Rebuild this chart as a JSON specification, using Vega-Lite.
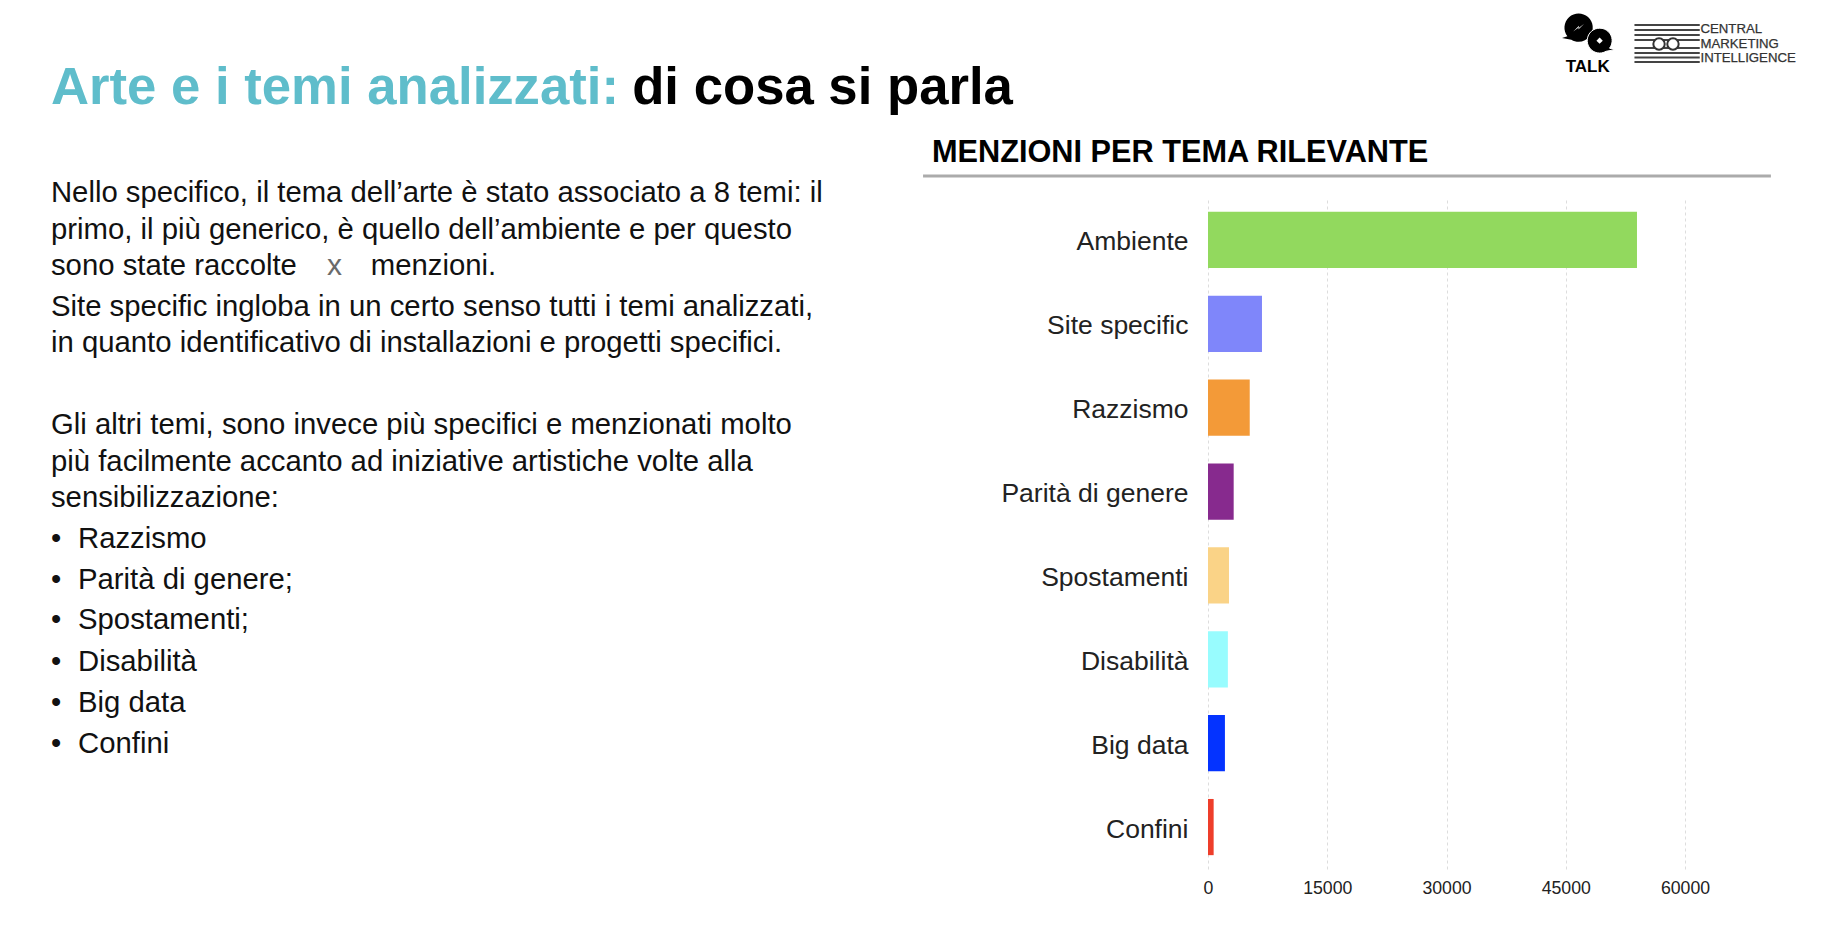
{
"$schema":"https://vega.github.io/schema/vega-lite/v6.json",
"padding":0,
"background":"white",
"config":{"view":{"stroke":null},"font":"Liberation Sans"},
"bounds":"flush",
"spacing":0,
"vconcat":[
{
"width":1834,"height":198,
"encoding":{
"x":{"field":"x","type":"quantitative","axis":null,"scale":{"domain":[0,100]}},
"y":{"field":"y","type":"quantitative","axis":null,"scale":{"domain":[100,0]}}
},
"layer":[
{"data":{"values":[{"testo":"Arte e i temi analizzati:","x":2.78,"y":52.5}]},
 "mark":{"type":"text","align":"left","baseline":"alphabetic","fontSize":52.7,"fontWeight":"bold","color":"#5FBDCB"},
 "encoding":{"text":{"field":"testo"}}},
{"data":{"values":[{"testo":"di cosa si parla","x":34.47,"y":52.5}]},
 "mark":{"type":"text","align":"left","baseline":"alphabetic","fontSize":52.7,"fontWeight":"bold","color":"#000000"},
 "encoding":{"text":{"field":"testo"}}},
{"data":{"values":[{"testo":"MENZIONI PER TEMA RILEVANTE","x":50.82,"y":81.6}]},
 "mark":{"type":"text","align":"left","baseline":"alphabetic","fontSize":30.7,"fontWeight":"bold","color":"#000000"},
 "encoding":{"text":{"field":"testo"}}},
{"data":{"values":[{"x":50.33,"x2":96.56,"y":88.9}]},
 "mark":{"type":"rule","color":"#ABABAB","strokeWidth":3},
 "encoding":{"x2":{"field":"x2"}}},
{"data":{"values":[{"x":89.12,"x2":92.68,"y":12.63},{"x":89.12,"x2":92.68,"y":15.15},{"x":89.12,"x2":92.68,"y":17.68},{"x":89.12,"x2":92.68,"y":20.2},{"x":89.12,"x2":92.68,"y":24.24},{"x":89.12,"x2":92.68,"y":26.77},{"x":89.12,"x2":92.68,"y":29.04},{"x":89.12,"x2":92.68,"y":31.31}]},
 "mark":{"type":"rule","color":"#444444","strokeWidth":2.2},
 "encoding":{"x2":{"field":"x2"}}},
{"data":{"values":[{"x":90.46,"y":22.22},{"x":91.22,"y":22.22}]},
 "mark":{"type":"point","shape":"circle","filled":true,"fill":"white","stroke":"#333333","strokeWidth":2,"size":130,"opacity":1}},
{"data":{"values":[{"x":86.08,"y":13.99}]},
 "mark":{"type":"point","filled":true,"color":"#000000","opacity":1,"size":800,"shape":"M-0.8,0.6 L-1.18,0.72 L-0.52,0.85 A1,1 0 1 0 -0.8,0.6 Z"}},
{"data":{"values":[{"x":87.22,"y":20.56}]},
 "mark":{"type":"point","filled":true,"color":"#000000","opacity":1,"stroke":"white","strokeWidth":1,"size":620,"shape":"M0.8,0.6 L1.22,0.72 L0.52,0.85 A1,1 0 1 1 0.8,0.6 Z"}},
{"data":{"values":[{"x":86.08,"y":13.99}]},
 "mark":{"type":"point","filled":true,"color":"white","opacity":1,"size":120,"shape":"M-1,0.7 L0.05,-0.35 L0,0.05 L1,-0.7 L-0.05,0.35 L0,-0.05 Z"}},
{"data":{"values":[{"x":87.22,"y":20.56}]},
 "mark":{"type":"point","shape":"diamond","filled":true,"color":"white","opacity":1,"size":40}},
{"data":{"values":[{"testo":"TALK","x":86.57,"y":36.36}]},
 "mark":{"type":"text","align":"center","baseline":"alphabetic","fontSize":17,"fontWeight":"bold","color":"#000000"},
 "encoding":{"text":{"field":"testo"}}},
{"data":{"values":[{"testo":"CENTRAL","x":92.72,"y":16.67},{"testo":"MARKETING","x":92.72,"y":24.24},{"testo":"INTELLIGENCE","x":92.72,"y":31.31}]},
 "mark":{"type":"text","align":"left","baseline":"alphabetic","fontSize":13.2,"color":"#333333","stroke":"#333333","strokeWidth":0.25},
 "encoding":{"text":{"field":"testo"}}}
]
},
{
"bounds":"flush",
"spacing":0,
"hconcat":[
{
"width":1208,"height":671,
"encoding":{
"x":{"field":"colonna","type":"quantitative","axis":null,"scale":{"domain":[0,23.23]}},
"y":{"field":"riga","type":"quantitative","axis":null,"scale":{"domain":[19.521,1.137]}}
},
"layer":[
{"data":{"values":[
{"testo":"Nello specifico, il tema dell’arte è stato associato a 8 temi: il","colonna":0.98,"riga":1},
{"testo":"primo, il più generico, è quello dell’ambiente e per questo","colonna":0.98,"riga":2.01},
{"testo":"sono state raccolte","colonna":0.98,"riga":3},
{"testo":"menzioni.","colonna":7.13,"riga":3},
{"testo":"Site specific ingloba in un certo senso tutti i temi analizzati,","colonna":0.98,"riga":4.12},
{"testo":"in quanto identificativo di installazioni e progetti specifici.","colonna":0.98,"riga":5.11},
{"testo":"Gli altri temi, sono invece più specifici e menzionati molto","colonna":0.98,"riga":7.36},
{"testo":"più facilmente accanto ad iniziative artistiche volte alla","colonna":0.98,"riga":8.37},
{"testo":"sensibilizzazione:","colonna":0.98,"riga":9.36},
{"testo":"•","colonna":0.98,"riga":10.48},
{"testo":"Razzismo","colonna":1.5,"riga":10.48},
{"testo":"•","colonna":0.98,"riga":11.61},
{"testo":"Parità di genere;","colonna":1.5,"riga":11.61},
{"testo":"•","colonna":0.98,"riga":12.7},
{"testo":"Spostamenti;","colonna":1.5,"riga":12.7},
{"testo":"•","colonna":0.98,"riga":13.85},
{"testo":"Disabilità","colonna":1.5,"riga":13.85},
{"testo":"•","colonna":0.98,"riga":14.98},
{"testo":"Big data","colonna":1.5,"riga":14.98},
{"testo":"•","colonna":0.98,"riga":16.1},
{"testo":"Confini","colonna":1.5,"riga":16.1}
]},
 "mark":{"type":"text","align":"left","baseline":"middle","fontSize":29.3,"color":"#111111"},
 "encoding":{"text":{"field":"testo"}}},
{"data":{"values":[{"testo":"x","colonna":6.29,"riga":3}]},
 "mark":{"type":"text","align":"left","baseline":"middle","fontSize":30,"color":"#6B6B6B"},
 "encoding":{"text":{"field":"testo"}}}
]
},
{
"width":477,"height":671,
"data":{"values":[
{"tema":"Ambiente","menzioni":53960},
{"tema":"Site specific","menzioni":6790},
{"tema":"Razzismo","menzioni":5250},
{"tema":"Parità di genere","menzioni":3230},
{"tema":"Spostamenti","menzioni":2640},
{"tema":"Disabilità","menzioni":2500},
{"tema":"Big data","menzioni":2130},
{"tema":"Confini","menzioni":710}
]},
"mark":{"type":"bar"},
"encoding":{
"x":{"field":"menzioni","type":"quantitative","title":null,
 "scale":{"domain":[0,60000],"nice":false},
 "axis":{"values":[0,15000,30000,45000,60000],"format":"d","grid":true,"gridColor":"#DDDDDD","gridDash":[3,3],"gridWidth":1,"domain":false,"ticks":false,"labelFontSize":17.7,"labelColor":"#222222","labelPadding":10,"labelFlush":false}},
"y":{"field":"tema","type":"nominal","title":null,
 "sort":["Ambiente","Site specific","Razzismo","Parità di genere","Spostamenti","Disabilità","Big data","Confini"],
 "scale":{"paddingInner":0.33,"paddingOuter":0.165},
 "axis":{"domain":false,"ticks":false,"grid":false,"labelFontSize":26.5,"labelColor":"#222222","labelPadding":20,"labelLimit":400,"labelOffset":2.5}},
"color":{"field":"tema","type":"nominal","legend":null,
 "scale":{"domain":["Ambiente","Site specific","Razzismo","Parità di genere","Spostamenti","Disabilità","Big data","Confini"],
 "range":["#92D95E","#7F86FA","#F39A38","#872A8E","#FAD387","#98FCFE","#0433FF","#EE3E2A"]}}
}
}
]
}
]
}
